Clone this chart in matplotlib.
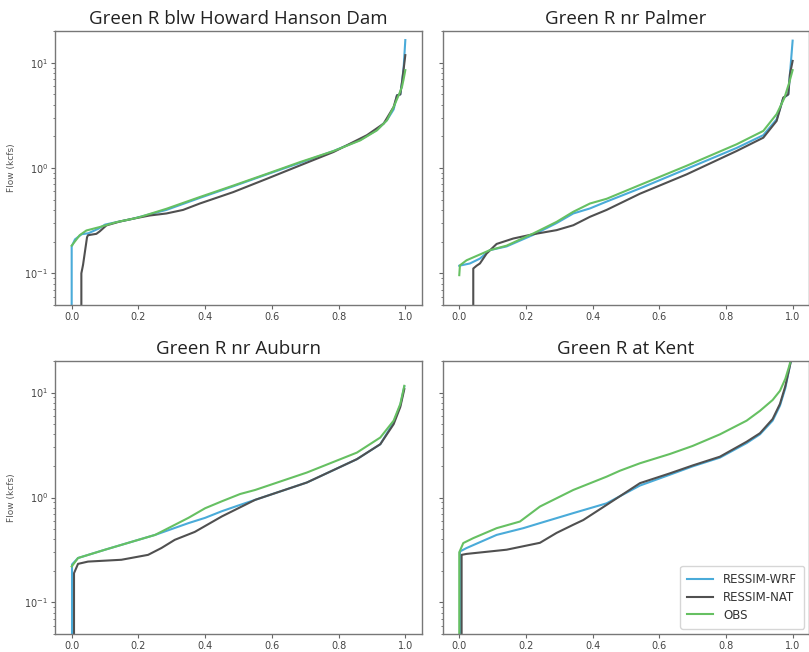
import matplotlib
matplotlib.use("Agg")
import matplotlib.pyplot as plt
import numpy as np

# ---------------- data (exceedance fraction, flow kcfs) ----------------
titles = ["Green R blw Howard Hanson Dam", "Green R nr Palmer",
          "Green R nr Auburn", "Green R at Kent"]
series_names = ["RESSIM-WRF", "RESSIM-NAT", "OBS"]

# Howard Hanson Dam
hh_wrf_x = [0.0, 0.0, 0.01, 0.03, 0.05, 0.08, 0.10, 0.134, 0.184, 0.284, 0.384, 0.484,
            0.585, 0.685, 0.785, 0.865, 0.915, 0.945, 0.965, 0.975, 0.985, 0.99, 0.995, 1.0]
hh_wrf_y = [0.04, 0.18, 0.21, 0.235, 0.24, 0.265, 0.29, 0.306, 0.33, 0.40, 0.52, 0.67,
            0.87, 1.12, 1.45, 1.85, 2.3, 2.85, 3.6, 4.9, 5.0, 6.5, 9.0, 16.4]
hh_nat_x = [0.029, 0.029, 0.034, 0.046, 0.049, 0.074, 0.084, 0.104, 0.144, 0.184, 0.234,
            0.284, 0.334, 0.384, 0.484, 0.585, 0.685, 0.785, 0.885, 0.935, 0.965, 0.975,
            0.985, 0.99, 0.995, 1.0]
hh_nat_y = [0.04, 0.10, 0.12, 0.22, 0.23, 0.237, 0.25, 0.285, 0.31, 0.33, 0.354,
            0.37, 0.40, 0.46, 0.59, 0.79, 1.06, 1.42, 2.05, 2.64, 3.8, 4.9,
            5.0, 6.5, 8.7, 11.8]
hh_obs_x = [0.0, 0.024, 0.044, 0.084, 0.134, 0.184, 0.204, 0.284, 0.384, 0.484, 0.585,
            0.685, 0.785, 0.865, 0.915, 0.945, 0.965, 0.98, 0.99, 0.995, 1.0]
hh_obs_y = [0.183, 0.23, 0.255, 0.275, 0.306, 0.33, 0.342, 0.41, 0.53, 0.68, 0.88,
            1.14, 1.45, 1.83, 2.28, 2.84, 3.8, 4.9, 5.9, 7.0, 8.5]

# Palmer
pa_wrf_x = [0.0, 0.032, 0.062, 0.092, 0.142, 0.222, 0.292, 0.342, 0.392, 0.442, 0.542,
            0.682, 0.832, 0.912, 0.952, 0.972, 0.987, 0.992, 1.0]
pa_wrf_y = [0.118, 0.124, 0.138, 0.166, 0.18, 0.232, 0.30, 0.37, 0.413, 0.48, 0.64,
            0.98, 1.55, 2.05, 2.9, 4.6, 5.0, 7.8, 16.2]
pa_nat_x = [0.042, 0.042, 0.052, 0.062, 0.082, 0.112, 0.162, 0.222, 0.292, 0.342, 0.392,
            0.442, 0.542, 0.682, 0.832, 0.912, 0.952, 0.972, 0.987, 0.992, 1.0]
pa_nat_y = [0.04, 0.111, 0.118, 0.124, 0.154, 0.19, 0.214, 0.235, 0.257, 0.286, 0.344,
            0.40, 0.57, 0.87, 1.45, 1.94, 2.8, 4.67, 5.0, 7.8, 10.4]
pa_obs_x = [0.0, 0.002, 0.022, 0.092, 0.142, 0.222, 0.292, 0.342, 0.392, 0.442, 0.542,
            0.682, 0.832, 0.912, 0.952, 0.975, 0.99, 1.0]
pa_obs_y = [0.096, 0.119, 0.133, 0.166, 0.183, 0.239, 0.308, 0.384, 0.46, 0.51, 0.69,
            1.05, 1.68, 2.25, 3.25, 4.6, 6.5, 8.5]

# Auburn
au_wrf_x = [0.001, 0.001, 0.019, 0.10, 0.20, 0.25, 0.35, 0.40, 0.45, 0.50, 0.55, 0.705,
            0.855, 0.925, 0.965, 0.985, 0.997]
au_wrf_y = [0.04, 0.23, 0.265, 0.318, 0.395, 0.44, 0.57, 0.64, 0.74, 0.84, 0.95, 1.39,
            2.32, 3.22, 5.2, 7.6, 11.4]
au_nat_x = [0.007, 0.007, 0.019, 0.049, 0.149, 0.229, 0.269, 0.309, 0.369, 0.45, 0.55,
            0.705, 0.855, 0.925, 0.965, 0.985, 0.997]
au_nat_y = [0.04, 0.19, 0.233, 0.245, 0.255, 0.284, 0.33, 0.395, 0.47, 0.66, 0.95,
            1.39, 2.32, 3.22, 5.0, 7.3, 10.8]
au_obs_x = [0.0, 0.019, 0.10, 0.20, 0.25, 0.35, 0.40, 0.45, 0.505, 0.55, 0.705, 0.855,
            0.925, 0.965, 0.985, 0.997]
au_obs_y = [0.22, 0.265, 0.318, 0.395, 0.44, 0.64, 0.79, 0.92, 1.08, 1.18, 1.73, 2.68,
            3.73, 5.4, 7.8, 11.6]

# Kent
ke_wrf_x = [0.002, 0.002, 0.022, 0.112, 0.192, 0.242, 0.342, 0.442, 0.542, 0.632,
            0.70, 0.782, 0.862, 0.902, 0.94, 0.962, 0.978, 0.99, 1.0]
ke_wrf_y = [0.04, 0.306, 0.33, 0.44, 0.51, 0.57, 0.71, 0.88, 1.30, 1.65,
            1.98, 2.4, 3.3, 4.0, 5.4, 7.5, 11.0, 17.0, 24.0]
ke_nat_x = [0.007, 0.007, 0.022, 0.142, 0.242, 0.292, 0.342, 0.372, 0.442, 0.542, 0.632,
            0.70, 0.782, 0.862, 0.902, 0.94, 0.962, 0.978, 0.99, 1.0]
ke_nat_y = [0.04, 0.284, 0.29, 0.318, 0.37, 0.46, 0.55, 0.61, 0.85, 1.37, 1.70,
            2.02, 2.45, 3.4, 4.1, 5.6, 7.8, 11.5, 17.0, 24.0]
ke_obs_x = [0.0, 0.0, 0.012, 0.042, 0.112, 0.182, 0.242, 0.342, 0.442, 0.482, 0.542,
            0.632, 0.70, 0.782, 0.862, 0.902, 0.94, 0.962, 0.978, 0.99, 1.0]
ke_obs_y = [0.04, 0.30, 0.368, 0.41, 0.51, 0.59, 0.82, 1.18, 1.58, 1.8, 2.12,
            2.6, 3.1, 4.0, 5.4, 6.7, 8.5, 10.4, 13.5, 18.0, 24.0]

panels = [
    (titles[0], (hh_wrf_x, hh_wrf_y), (hh_nat_x, hh_nat_y), (hh_obs_x, hh_obs_y)),
    (titles[1], (pa_wrf_x, pa_wrf_y), (pa_nat_x, pa_nat_y), (pa_obs_x, pa_obs_y)),
    (titles[2], (au_wrf_x, au_wrf_y), (au_nat_x, au_nat_y), (au_obs_x, au_obs_y)),
    (titles[3], (ke_wrf_x, ke_wrf_y), (ke_nat_x, ke_nat_y), (ke_obs_x, ke_obs_y)),
]
xticks = [0.0, 0.2, 0.4, 0.6, 0.8, 1.0]
ylabel = "Flow (kcfs)"

# ---------------- style ----------------
colors = ["#4aabd9", "#505050", "#66c062"]
W, H = 809, 652
fig = plt.figure(figsize=(W / 100, H / 100), dpi=100)

def rect(l, t, r, b):
    return [l / W, 1 - b / H, (r - l) / W, (b - t) / H]

rects = [rect(55, 31, 422, 305), rect(442.6, 31, 809.3, 305),
         rect(55, 361, 422, 634), rect(442.6, 361, 809.3, 634)]

tick_color = "#444444"
for i, (title, wrf, nat, obs) in enumerate(panels):
    ax = fig.add_axes(rects[i])
    for (xs, ys), c, name in zip([wrf, nat, obs], colors, series_names):
        ax.plot(xs, ys, color=c, lw=1.5, label=name)
    ax.set_yscale("log")
    ax.set_ylim(0.05, 20)
    ax.set_xlim(-0.05, 1.05)
    ax.set_xticks(xticks)
    ax.set_xticklabels([f"{t:.1f}" for t in xticks])
    ax.tick_params(axis="both", which="both", labelsize=7, colors="#666666",
                   labelcolor=tick_color)
    ax.tick_params(axis="both", which="major", length=3, width=0.8, pad=1.8)
    ax.tick_params(axis="y", which="minor", length=1.8, width=0.6)
    for s in ax.spines.values():
        s.set_color("#777777")
        s.set_linewidth(1.0)
    ax.set_title(title, fontsize=13.5, family="Open Sans", color="#222222", pad=5)
    if i % 2 == 0:
        ax.set_ylabel(ylabel, fontsize=6.5, color="#555555", labelpad=6)
    else:
        ax.tick_params(axis="y", which="both", labelleft=False)
    if i == 3:
        leg = ax.legend(loc="lower right", fontsize=8.5, frameon=True,
                        handlelength=2.2, borderpad=0.6, labelspacing=0.4,
                        borderaxespad=0.45, fancybox=True)
        leg.get_frame().set_edgecolor("#cccccc")
        for t in leg.get_texts():
            t.set_color("#333333")

fig.savefig("out.png", dpi=100)
